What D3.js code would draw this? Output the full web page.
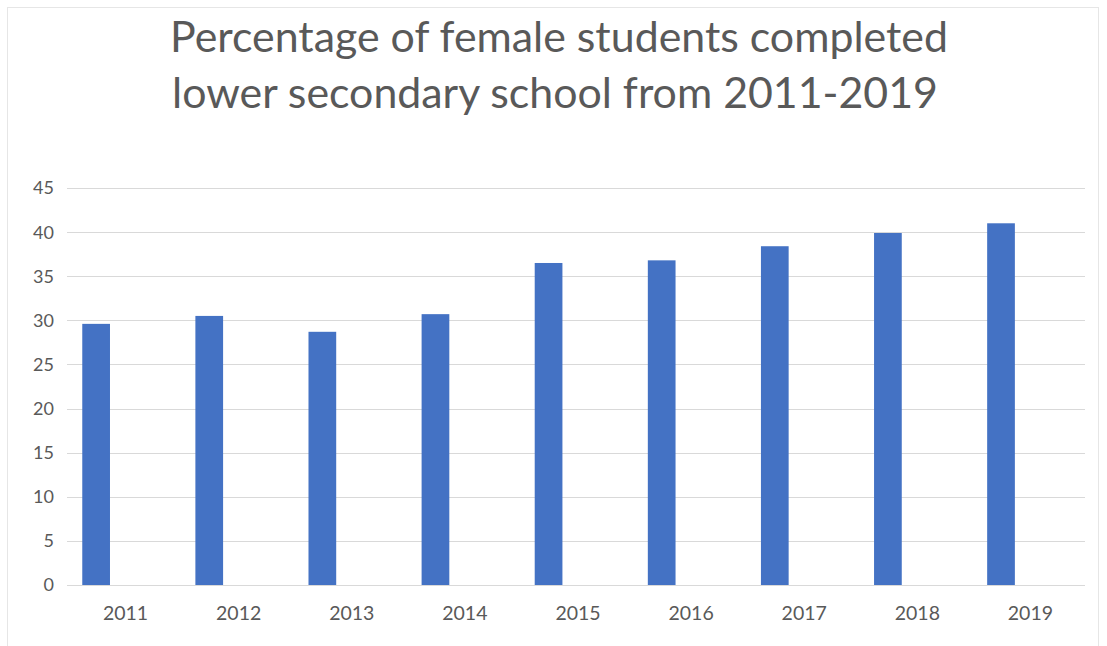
<!DOCTYPE html>
<html>
<head>
<meta charset="utf-8">
<script src="https://cdn.jsdelivr.net/npm/d3@7"></script>
<style>
  html, body { margin: 0; padding: 0; background: #fff; }
  svg { display: block; }
</style>
</head>
<body>
<svg id="chart" width="1107" height="646"></svg>
<script>
const titleLines = ["Percentage of female students completed", "lower secondary school from 2011-2019"];
const years = ["2011", "2012", "2013", "2014", "2015", "2016", "2017", "2018", "2019"];
const values = [29.6, 30.5, 28.7, 30.7, 36.5, 36.8, 38.4, 39.9, 41.0];
const yTicks = [0, 5, 10, 15, 20, 25, 30, 35, 40, 45];

const W = 1107, H = 646;
const svg = d3.select("#chart");
const font = "Lato, 'Open Sans', sans-serif";
const textColor = "#595959";

// chart border
svg.append("rect").attr("x", 7.5).attr("y", 7.5).attr("width", 1091).attr("height", 650)
  .attr("fill", "#fff").attr("stroke", "#e6e6e6").attr("stroke-width", 1);

const plot = { left: 67, right: 1085, top: 188, bottom: 585 };

const x = d3.scaleBand().domain(years).range([plot.left, plot.right]).paddingInner(0).paddingOuter(0);
const y = d3.scaleLinear().domain([0, 45]).range([plot.bottom, plot.top]);

// gridlines
svg.append("g").selectAll("line").data(yTicks).join("line")
  .attr("x1", plot.left).attr("x2", plot.right)
  .attr("y1", d => Math.round(y(d)) + 0.5).attr("y2", d => Math.round(y(d)) + 0.5)
  .attr("stroke", "#d9d9d9").attr("stroke-width", 1);

// y labels
svg.append("g").selectAll("text").data(yTicks).join("text")
  .attr("x", 54).attr("y", d => y(d)).attr("dy", "0.36em")
  .attr("text-anchor", "end").attr("font-family", font).attr("font-size", 18)
  .attr("fill", textColor).text(d => d);

// bars (first of two clustered series; second slot empty)
const step = x.bandwidth();
svg.append("g").selectAll("rect").data(values).join("rect")
  .attr("x", (d, i) => x(years[i]) + step * 0.5 - step * 0.365)
  .attr("width", step * 0.245)
  .attr("y", d => y(d))
  .attr("height", d => y(0) - y(d))
  .attr("fill", "#4472C4");

// x labels
svg.append("g").selectAll("text").data(years).join("text")
  .attr("x", d => x(d) + step / 2 + 2).attr("y", 620)
  .attr("text-anchor", "middle").attr("font-family", font).attr("font-size", 19.5)
  .attr("fill", textColor).text(d => d);

// title
const tg = svg.append("g");
const t1 = tg.append("text").attr("x", 559).attr("y", 52).attr("text-anchor", "middle")
  .attr("font-family", font).attr("font-size", 40).attr("fill", textColor).text(titleLines[0]);
const w1 = t1.node().getComputedTextLength();
const fs = 40 * 778 / w1;
t1.attr("font-size", fs);
tg.append("text").attr("x", 555).attr("y", 108).attr("text-anchor", "middle")
  .attr("font-family", font).attr("font-size", fs).attr("fill", textColor).text(titleLines[1]);
</script>
</body>
</html>
